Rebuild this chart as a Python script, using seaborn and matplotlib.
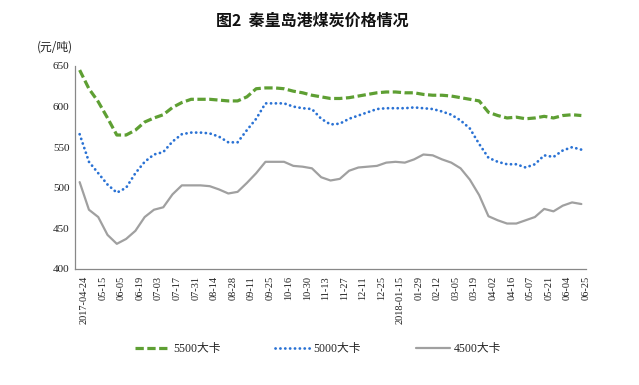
import numpy as np
import pandas as pd
import matplotlib
matplotlib.use('Agg')
import matplotlib.pyplot as plt
import seaborn as sns

# ================= 数据 =================
# 秦皇岛港动力煤价格 (元/吨), 周度
PRICE_5500 = [645, 622, 606, 586, 565, 565, 571, 581, 586, 590,
              599, 605, 609, 609, 609, 608, 607, 607, 612, 622,
              623, 623, 622, 619, 617, 614, 612, 610, 610, 611,
              613, 615, 617, 618, 618, 617, 617, 615, 614, 614,
              613, 611, 609, 607, 593, 589, 586, 587, 585, 586,
              588, 586, 589, 590, 589]
PRICE_5000 = [566, 532, 518, 504, 494, 500, 518, 532, 541, 544,
              557, 566, 568, 568, 567, 563, 556, 556, 571, 585,
              604, 604, 604, 600, 598, 597, 585, 578, 579, 585,
              589, 593, 597, 598, 598, 598, 599, 598, 597, 594,
              590, 583, 573, 554, 537, 532, 529, 529, 525, 529,
              540, 538, 546, 550, 547]
PRICE_4500 = [507, 473, 464, 442, 431, 437, 447, 464, 473, 476,
              492, 503, 503, 503, 502, 498, 493, 495, 506, 518,
              532, 532, 532, 527, 526, 524, 513, 509, 511, 521,
              525, 526, 527, 531, 532, 531, 535, 541, 540, 535,
              531, 524, 510, 491, 465, 460, 456, 456, 460, 464,
              474, 471, 478, 482, 480]
TICK_LABELS = ['2017-04-24', '05-15', '06-05', '06-19', '07-03', '07-17', '07-31',
               '08-14', '08-28', '09-11', '09-25', '10-16', '10-30', '11-13',
               '11-27', '12-11', '12-25', '2018-01-15', '01-29', '02-12',
               '03-05', '03-19', '04-02', '04-16', '05-07', '05-21', '06-04', '06-25']
SERIES_NAMES = ['5500大卡', '5000大卡', '4500大卡']
Y_TICKS = [400, 450, 500, 550, 600, 650]

FONT_NUM = ['Liberation Serif', 'Noto Sans CJK SC']
FONT_CJK = ['Noto Sans CJK SC', 'DejaVu Sans']


def plot_chart():
    sns.set_style('white')
    plt.rcParams['font.family'] = FONT_NUM
    plt.rcParams['axes.unicode_minus'] = False

    n = len(PRICE_5500)
    df = pd.DataFrame({
        'idx': np.arange(n),
        SERIES_NAMES[0]: PRICE_5500,
        SERIES_NAMES[1]: PRICE_5000,
        SERIES_NAMES[2]: PRICE_4500,
    })

    fig = plt.figure(figsize=(6.39, 3.85), dpi=100)
    ax = fig.add_axes([75 / 639, 1 - 269 / 385, 511 / 639, 203 / 385])

    # 5500 绿色虚线
    sns.lineplot(data=df, x='idx', y=SERIES_NAMES[0], ax=ax, color='#5E9F33',
                 linewidth=2.3, label=SERIES_NAMES[0])
    # 5000 蓝色点线
    sns.lineplot(data=df, x='idx', y=SERIES_NAMES[1], ax=ax, color='#2A72D4',
                 linewidth=2.0, label=SERIES_NAMES[1])
    # 4500 灰色实线
    sns.lineplot(data=df, x='idx', y=SERIES_NAMES[2], ax=ax, color='#A0A0A0',
                 linewidth=1.6, label=SERIES_NAMES[2])

    lines = ax.get_lines()
    lines[0].set_dashes((2.6, 1.1))
    lines[0].set_dash_capstyle('butt')
    lines[1].set_dashes((0.05, 1.7))
    lines[1].set_dash_capstyle('round')

    ax.set_xlim(-0.5, n - 0.5)
    ax.set_ylim(400, 650)
    ax.set_yticks(Y_TICKS)
    ax.set_xticks(np.arange(len(TICK_LABELS)) * 2 + 0.5)
    ax.set_xticklabels(TICK_LABELS, rotation=90, fontsize=7.5)
    ax.tick_params(axis='y', labelsize=8)
    ax.tick_params(axis='both', direction='in', length=3, width=0.8,
                   color='#888888', labelcolor='#222222')
    ax.tick_params(axis='x', pad=5)
    ax.tick_params(axis='y', pad=4)
    ax.set_xlabel('')
    ax.set_ylabel('')

    for side in ['top', 'right']:
        ax.spines[side].set_visible(False)
    for side in ['left', 'bottom']:
        ax.spines[side].set_color('#888888')
        ax.spines[side].set_linewidth(0.9)

    ax.get_legend().remove()
    handles, labels = ax.get_legend_handles_labels()
    fig.legend(handles, labels, loc='center', bbox_to_anchor=(0.498, 1 - 349 / 385),
               ncol=3, frameon=False, fontsize=8.5, handlelength=2.9,
               handletextpad=0.35, columnspacing=4.6,
               prop={'family': FONT_NUM, 'size': 8.5})

    fig.text(0.488, 1 - 21 / 385, '图2  秦皇岛港煤炭价格情况', ha='center', va='center',
             fontsize=11.5, fontweight='bold', family=FONT_CJK, color='#111111')
    fig.text(37 / 639, 1 - 47 / 385, '(元/吨)', ha='left', va='center',
             fontsize=8.5, family=FONT_CJK, color='#222222')

    fig.savefig('out.png', dpi=100)
    plt.close(fig)


if __name__ == '__main__':
    plot_chart()
